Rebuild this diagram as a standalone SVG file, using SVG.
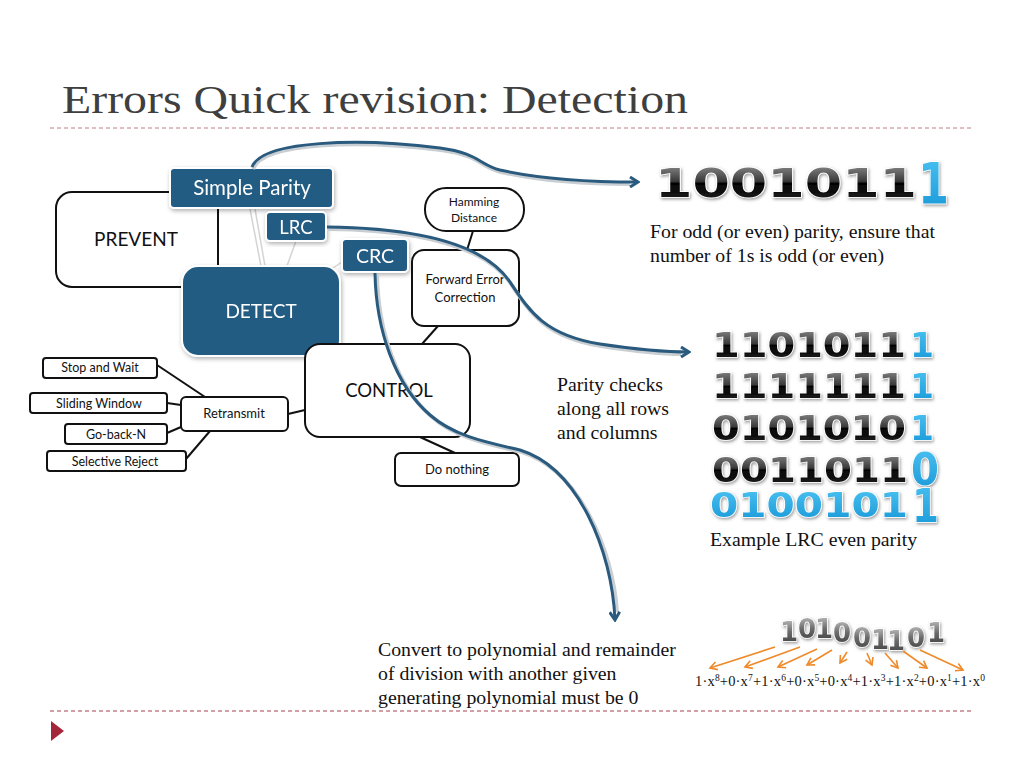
<svg xmlns="http://www.w3.org/2000/svg" width="1024" height="768" viewBox="0 0 1024 768">
<defs>
<style>
.wbox{fill:#fff;stroke:#111;stroke-width:2}
.bbox{fill:#215b82;stroke:#fff;stroke-width:2}
.wt{font-family:Lato,"Open Sans","DejaVu Sans",sans-serif;fill:#111;text-anchor:middle}
.bt{font-family:Lato,"Open Sans","DejaVu Sans",sans-serif;fill:#fff;text-anchor:middle}
.conn{stroke:#111;stroke-width:2;fill:none}
.faint{stroke:#d4d4d4;stroke-width:1.5;fill:none}
.curve{fill:none;stroke:#2a5b7e;stroke-width:3}
.curveSh{fill:none;stroke:#c9ced3;stroke-width:4}
.serif{font-family:"Liberation Serif","Times New Roman",serif;fill:#111}
.dig{font-family:"DejaVu Sans",sans-serif;font-weight:bold;stroke:#fff;stroke-width:1.5;paint-order:stroke}
.oarr{stroke:#ef8a2a;stroke-width:1.6;fill:none}
</style>
<linearGradient id="gBlack" x1="0" y1="0" x2="0" y2="1">
<stop offset="0" stop-color="#9a9a9a"/>
<stop offset="0.45" stop-color="#3a3a3a"/>
<stop offset="0.5" stop-color="#050505"/>
<stop offset="1" stop-color="#222"/>
</linearGradient>
<linearGradient id="gBlue" x1="0" y1="0" x2="0" y2="1">
<stop offset="0" stop-color="#4cc3f2"/>
<stop offset="1" stop-color="#1796d6"/>
</linearGradient>
<linearGradient id="gGray" x1="0" y1="0" x2="0" y2="1">
<stop offset="0" stop-color="#c8c8c8"/>
<stop offset="0.5" stop-color="#6a6a6a"/>
<stop offset="1" stop-color="#3a3a3a"/>
</linearGradient>
<filter id="sh" x="-20%" y="-20%" width="140%" height="140%">
<feDropShadow dx="1" dy="2" stdDeviation="2" flood-color="#000" flood-opacity="0.3"/>
</filter>
<filter id="dsh" x="-10%" y="-20%" width="120%" height="150%">
<feDropShadow dx="1" dy="1.5" stdDeviation="1.5" flood-color="#555" flood-opacity="0.6"/>
</filter>
<marker id="mBlue" viewBox="0 0 12 12" refX="10" refY="6" markerWidth="12" markerHeight="12" orient="auto" markerUnits="userSpaceOnUse">
<path d="M2,1 L10,6 L2,11" fill="none" stroke="#2a5b7e" stroke-width="3"/>
</marker>
<marker id="mOr" viewBox="0 0 10 10" refX="8" refY="5" markerWidth="10" markerHeight="10" orient="auto" markerUnits="userSpaceOnUse">
<path d="M1,1 L8,5 L1,9" fill="none" stroke="#ef8a2a" stroke-width="1.6"/>
</marker>
</defs>
<rect width="1024" height="768" fill="#fff"/>

<!-- title -->
<text x="62" y="113" font-family="'Liberation Serif','Times New Roman',serif" font-size="40" fill="#3f3f3f" textLength="626" lengthAdjust="spacingAndGlyphs">Errors Quick revision: Detection</text>
<line x1="50" y1="128" x2="972" y2="128" stroke="#c07f86" stroke-width="1" stroke-dasharray="4,3"/>
<line x1="50" y1="711" x2="972" y2="711" stroke="#a8404e" stroke-width="1" stroke-dasharray="4,3"/>
<polygon points="51,721 64,731 51,741" fill="#a3263a"/>

<!-- connectors -->
<g id="connectors">
<line class="conn" x1="157" y1="365" x2="205" y2="397"/>
<line class="conn" x1="167" y1="403" x2="181" y2="405"/>
<line class="conn" x1="167" y1="433" x2="181" y2="427"/>
<line class="conn" x1="186" y1="459" x2="210" y2="431"/>
<line class="conn" x1="288" y1="414" x2="305" y2="410"/>
<line class="conn" x1="438" y1="326" x2="422" y2="344"/>
<line class="conn" x1="473" y1="231" x2="467" y2="250"/>
<line class="conn" x1="420" y1="437" x2="455" y2="453"/>
<line class="faint" x1="250" y1="209" x2="261" y2="266"/>
<line class="faint" x1="255" y1="209" x2="265" y2="266"/>
<line class="faint" x1="296" y1="241" x2="287" y2="266"/>
<line class="faint" x1="342" y1="262" x2="333" y2="268"/>
</g>

<g id="prevent">
<rect class="wbox" x="56" y="192" width="162" height="95" rx="16"/>
<text class="wt" x="136" y="246" font-size="19">PREVENT</text>
</g>
<g id="detect" filter="url(#sh)">
<rect class="bbox" x="182" y="266" width="158" height="90" rx="16"/>
<text class="bt" x="261" y="318" font-size="19">DETECT</text>
</g>
<g id="simple-parity" filter="url(#sh)">
<rect class="bbox" x="170" y="168" width="163" height="40" rx="4"/>
<text class="bt" x="252" y="195" font-size="20.5">Simple Parity</text>
</g>
<g id="lrc" filter="url(#sh)">
<rect class="bbox" x="266" y="212" width="60" height="29" rx="4"/>
<text class="bt" x="296" y="234" font-size="18.5">LRC</text>
</g>
<g id="crc" filter="url(#sh)">
<rect class="bbox" x="342" y="239" width="66" height="33" rx="4"/>
<text class="bt" x="375" y="263" font-size="19.5">CRC</text>
</g>
<g id="hamming">
<rect class="wbox" x="425" y="188" width="99" height="43" rx="21"/>
<text class="wt" x="474" y="206" font-size="12">Hamming</text>
<text class="wt" x="474" y="222" font-size="12">Distance</text>
</g>
<g id="fec">
<rect class="wbox" x="412" y="250" width="107" height="76" rx="12"/>
<text class="wt" x="465" y="284" font-size="13">Forward Error</text>
<text class="wt" x="465" y="302" font-size="13">Correction</text>
</g>
<g id="control">
<rect class="wbox" x="305" y="344" width="165" height="93" rx="15"/>
<text class="wt" x="389" y="397" font-size="18.5">CONTROL</text>
</g>
<g id="do-nothing">
<rect class="wbox" x="395" y="453" width="124" height="33" rx="6"/>
<text class="wt" x="457" y="474" font-size="13">Do nothing</text>
</g>
<g id="retransmit">
<rect class="wbox" x="181" y="397" width="107" height="34" rx="5"/>
<text class="wt" x="234" y="418" font-size="13">Retransmit</text>
</g>
<g id="stop-and-wait">
<rect class="wbox" x="43" y="358" width="114" height="20" rx="3"/>
<text class="wt" x="100" y="372" font-size="12.5">Stop and Wait</text>
</g>
<g id="sliding-window">
<rect class="wbox" x="30" y="393" width="137" height="20" rx="3"/>
<text class="wt" x="99" y="408" font-size="12.5">Sliding Window</text>
</g>
<g id="go-back-n">
<rect class="wbox" x="65" y="424" width="102" height="20" rx="3"/>
<text class="wt" x="116" y="439" font-size="12.5">Go-back-N</text>
</g>
<g id="selective-reject">
<rect class="wbox" x="47" y="451" width="139" height="20" rx="3"/>
<text class="wt" x="115" y="466" font-size="12.5">Selective Reject</text>
</g>

<!-- blue curves -->
<g id="curves">
<path class="curveSh" d="M253,169 C263,142 361,140 441,150 C479,155 481,167 501,172 C546,182 600,184 630,184"/>
<path class="curve" d="M252,167 C262,140 360,138 440,148 C478,153 480,165 500,170 C545,180 600,182 638,182" marker-end="url(#mBlue)"/>
<path class="curveSh" d="M328,229 C421,230 486,247 511,284 C531,314 546,337 601,346 C641,352 665,354 681,354"/>
<path class="curve" d="M327,227 C420,228 485,245 510,282 C530,312 545,335 600,344 C640,350 665,352 689,352" marker-end="url(#mBlue)"/>
<path class="curveSh" d="M377,274 C378,332 397,387 432,417 C457,439 492,445 522,452 C579,470 613,550 617,612"/>
<path class="curve" d="M375,273 C376,330 395,385 430,415 C455,437 490,443 520,450 C578,468 612,550 615,620" marker-end="url(#mBlue)"/>
</g>

<!-- simple parity example -->
<g id="parity-example" filter="url(#dsh)">
<text class="dig" x="655" y="197" font-size="39" fill="url(#gBlack)" textLength="262" lengthAdjust="spacingAndGlyphs">1001011</text>
<text class="dig" x="918" y="204" font-size="57" fill="url(#gBlue)" textLength="31" lengthAdjust="spacingAndGlyphs">1</text>
</g>
<text class="serif" x="650" y="238" font-size="19.8">For odd (or even) parity, ensure that</text>
<text class="serif" x="650" y="262" font-size="19.8">number of 1s is odd (or even)</text>

<!-- LRC example -->
<text class="serif" x="557" y="391" font-size="19.8">Parity checks</text>
<text class="serif" x="557" y="415" font-size="19.8">along all rows</text>
<text class="serif" x="557" y="439" font-size="19.8">and columns</text>
<g id="lrc-example" filter="url(#dsh)">
<text class="dig" x="712" y="357" font-size="33" fill="url(#gBlack)" textLength="194" lengthAdjust="spacingAndGlyphs">1101011</text>
<text class="dig" x="910" y="357" font-size="33" fill="url(#gBlue)" textLength="24" lengthAdjust="spacingAndGlyphs">1</text>
<text class="dig" x="712" y="398" font-size="33" fill="url(#gBlack)" textLength="194" lengthAdjust="spacingAndGlyphs">1111111</text>
<text class="dig" x="910" y="398" font-size="33" fill="url(#gBlue)" textLength="24" lengthAdjust="spacingAndGlyphs">1</text>
<text class="dig" x="712" y="440" font-size="33" fill="url(#gBlack)" textLength="194" lengthAdjust="spacingAndGlyphs">0101010</text>
<text class="dig" x="910" y="440" font-size="33" fill="url(#gBlue)" textLength="24" lengthAdjust="spacingAndGlyphs">1</text>
<text class="dig" x="712" y="482" font-size="34" fill="url(#gBlack)" textLength="196" lengthAdjust="spacingAndGlyphs">0011011</text>
<text class="dig" x="911" y="485" font-size="44" fill="url(#gBlue)" textLength="28" lengthAdjust="spacingAndGlyphs">0</text>
<text class="dig" x="710" y="517" font-size="33" fill="url(#gBlue)" textLength="198" lengthAdjust="spacingAndGlyphs">0100101</text>
<text class="dig" x="912" y="522" font-size="46" fill="url(#gBlue)" textLength="27" lengthAdjust="spacingAndGlyphs">1</text>
</g>
<text class="serif" x="710" y="546" font-size="19.8">Example LRC even parity</text>

<!-- CRC example -->
<text class="serif" x="378" y="656" font-size="19.8">Convert to polynomial and remainder</text>
<text class="serif" x="378" y="680" font-size="19.8">of division with another given</text>
<text class="serif" x="378" y="704" font-size="19.8">generating polynomial must be 0</text>
<g id="crc-digits" filter="url(#dsh)" font-size="26" text-anchor="middle">
<text class="dig" x="789" y="641" fill="url(#gGray)">1</text>
<text class="dig" x="807" y="638" fill="url(#gGray)">0</text>
<text class="dig" x="824" y="638" fill="url(#gGray)">1</text>
<text class="dig" x="842" y="642" fill="url(#gGray)">0</text>
<text class="dig" x="862" y="647" fill="url(#gGray)">0</text>
<text class="dig" x="880" y="649" fill="url(#gGray)">1</text>
<text class="dig" x="896" y="650" fill="url(#gGray)">1</text>
<text class="dig" x="916" y="647" fill="url(#gGray)">0</text>
<text class="dig" x="936" y="642" fill="url(#gGray)">1</text>
</g>
<g id="crc-arrows">
<line class="oarr" x1="775" y1="647" x2="710" y2="668" marker-end="url(#mOr)"/>
<line class="oarr" x1="800" y1="647" x2="745" y2="667" marker-end="url(#mOr)"/>
<line class="oarr" x1="817" y1="649" x2="778" y2="667" marker-end="url(#mOr)"/>
<line class="oarr" x1="832" y1="650" x2="807" y2="665" marker-end="url(#mOr)"/>
<line class="oarr" x1="847" y1="652" x2="840" y2="663" marker-end="url(#mOr)"/>
<line class="oarr" x1="867" y1="653" x2="872" y2="665" marker-end="url(#mOr)"/>
<line class="oarr" x1="885" y1="653" x2="898" y2="668" marker-end="url(#mOr)"/>
<line class="oarr" x1="903" y1="651" x2="927" y2="668" marker-end="url(#mOr)"/>
<line class="oarr" x1="920" y1="650" x2="963" y2="670" marker-end="url(#mOr)"/>
</g>
<text class="serif" x="695" y="686" font-size="14.5" textLength="290" lengthAdjust="spacing">1·x<tspan dy="-5" font-size="9.5">8</tspan><tspan dy="5">+0·x</tspan><tspan dy="-5" font-size="9.5">7</tspan><tspan dy="5">+1·x</tspan><tspan dy="-5" font-size="9.5">6</tspan><tspan dy="5">+0·x</tspan><tspan dy="-5" font-size="9.5">5</tspan><tspan dy="5">+0·x</tspan><tspan dy="-5" font-size="9.5">4</tspan><tspan dy="5">+1·x</tspan><tspan dy="-5" font-size="9.5">3</tspan><tspan dy="5">+1·x</tspan><tspan dy="-5" font-size="9.5">2</tspan><tspan dy="5">+0·x</tspan><tspan dy="-5" font-size="9.5">1</tspan><tspan dy="5">+1·x</tspan><tspan dy="-5" font-size="9.5">0</tspan></text>
</svg>
